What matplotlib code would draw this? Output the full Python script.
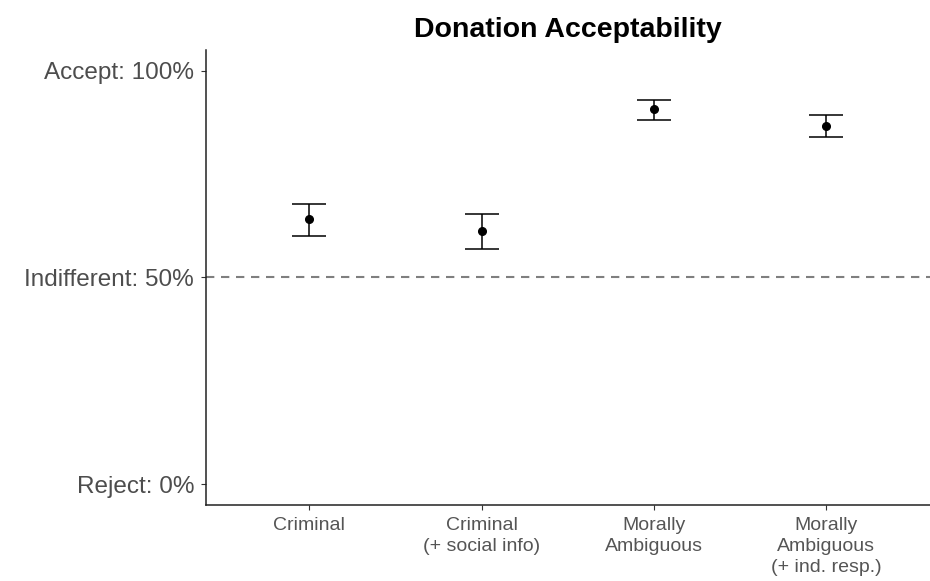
import matplotlib
matplotlib.use("Agg")
import matplotlib.pyplot as plt

# values
conditions = ["Criminal", "Criminal\n(+ social info)", "Morally\nAmbiguous",
              "Morally\nAmbiguous\n(+ ind. resp.)"]
means = [0.641, 0.612, 0.908, 0.867]
upper = [0.677, 0.653, 0.930, 0.893]
lower = [0.600, 0.570, 0.881, 0.840]
ytick_vals = [0, 0.5, 1]
ytick_labels = ["Reject: 0%", "Indifferent: 50%", "Accept: 100%"]

plt.rcParams['font.family'] = ['Liberation Sans', 'DejaVu Sans']

fig = plt.figure(figsize=(9.3, 5.81), dpi=100)
ax = fig.add_axes([0.2215, 0.1308, 0.778, 0.7832])

x = list(range(1, len(conditions) + 1))
err_lo = [m - l for m, l in zip(means, lower)]
err_hi = [u - m for m, u in zip(means, upper)]

ax.axhline(0.5, color="#7f7f7f", linestyle=(0, (4, 3.2)), linewidth=1.5, zorder=1)
ax.errorbar(x, means, yerr=[err_lo, err_hi], fmt="o", color="black",
            markersize=5.5, capsize=12.5, elinewidth=1.1, capthick=1.1, zorder=3)

ax.set_xlim(0.4, 4.6)
ax.set_ylim(-0.05, 1.05)
ax.set_xticks(x)
ax.set_xticklabels(conditions, fontsize=14, color="#555555", va="top",
                   linespacing=1.3)
ax.set_yticks(ytick_vals)
ax.set_yticklabels(ytick_labels, fontsize=17.5, color="#4d4d4d")
ax.tick_params(axis="both", length=3.5, width=0.8, color="#333333")
ax.tick_params(axis="x", pad=5)
ax.tick_params(axis="y", pad=5)

for side in ["top", "right"]:
    ax.spines[side].set_visible(False)
for side in ["left", "bottom"]:
    ax.spines[side].set_linewidth(1.1)
    ax.spines[side].set_color("#222222")

ax.set_title("Donation Acceptability", fontsize=20.5, fontweight="bold", pad=9)

fig.savefig("out.png", dpi=100)
